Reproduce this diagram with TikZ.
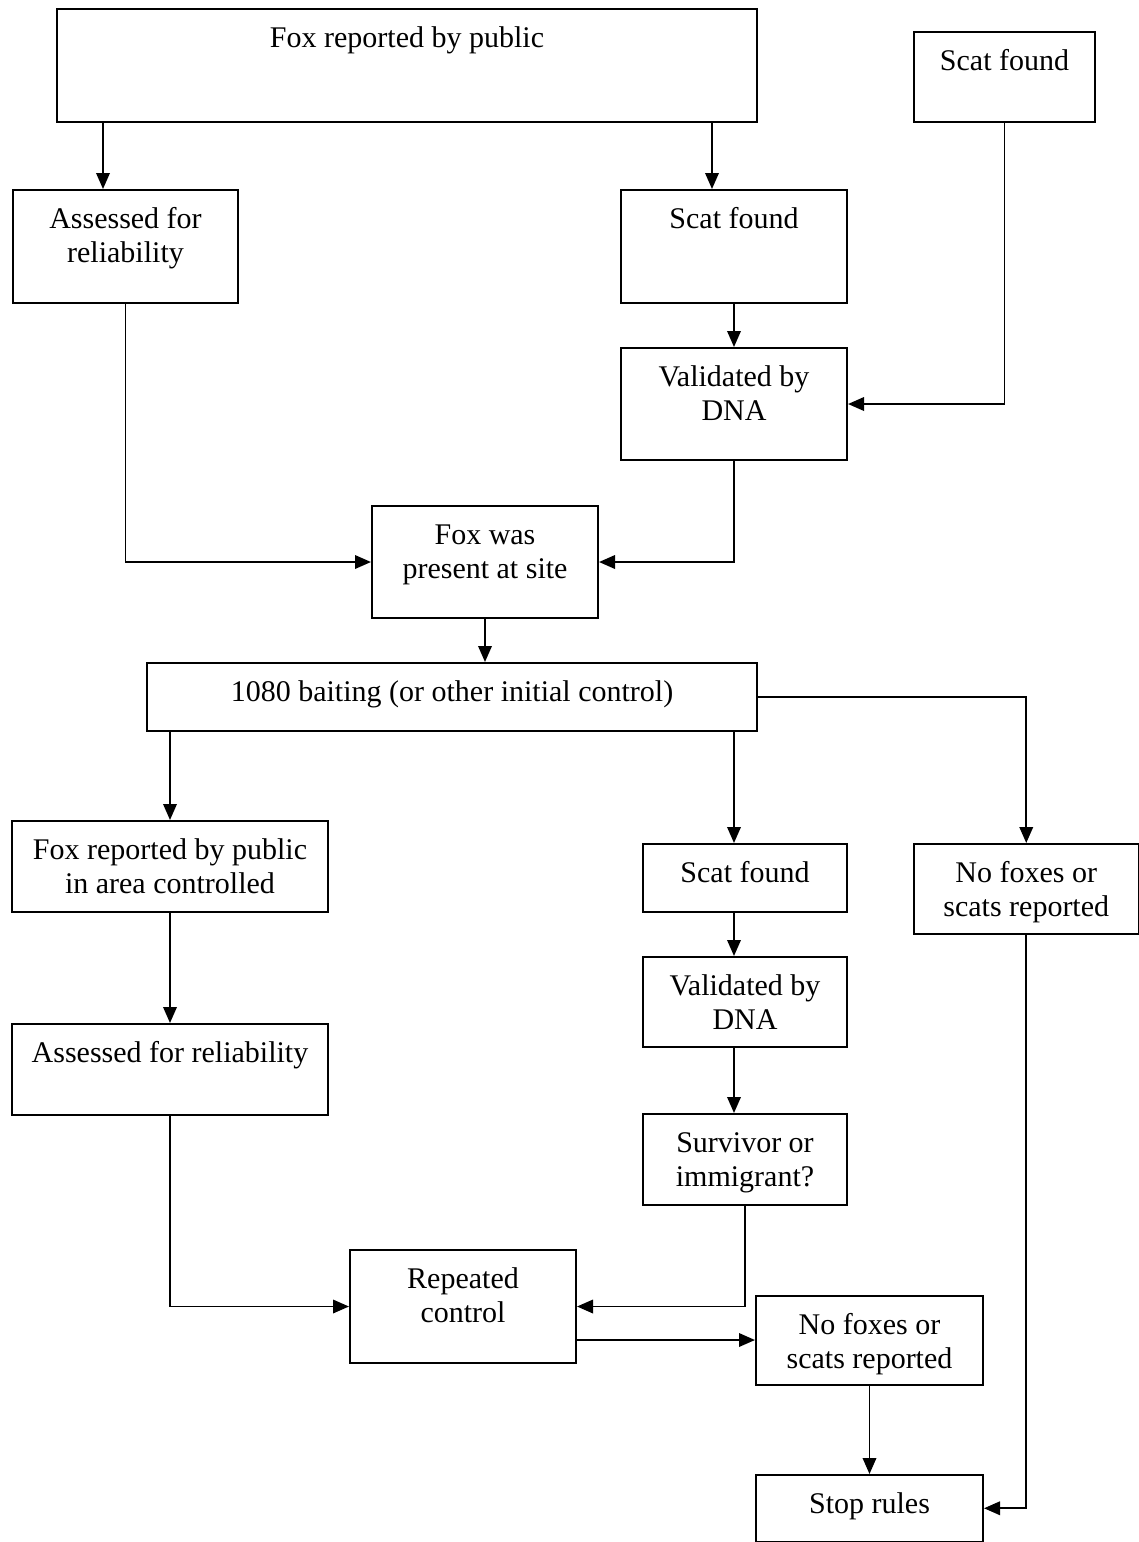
\documentclass[tikz,border=0pt]{standalone}
\usepackage{fontspec}
\setmainfont{Liberation Serif}
\usetikzlibrary{arrows.meta}

\begin{document}
\begin{tikzpicture}[x=0.4pt, y=-0.4pt,
		font=\fontsize{12pt}{13.8pt}\selectfont,
		box/.style={draw, line width=0.8pt, inner sep=0pt, align=center,
			anchor=north west, text height=15.2pt},
		twoline/.style={box, text height=29pt},
		arr/.style={-{Triangle[length=6.4pt, width=5.4pt]}, line width=0.75pt}]
				\useasboundingbox (0,0) rectangle (1139,1542);
				\node[box, minimum width=280pt, text depth=30pt] (pub) at (56,8) {Fox reported by public};
				\node[box, minimum width=72.4pt, text depth=20.8pt] (scat) at (913,31) {Scat found};
				\node[twoline, minimum width=90pt, text depth=16.2pt] (rel) at (12,189) {Assessed for\\reliability};
				\node[box, minimum width=90.4pt, text depth=30pt] (scat2) at (620,189) {Scat found};
				\node[twoline, minimum width=90.4pt, text depth=15.8pt] (dna) at (620,347) {Validated by\\DNA};
				\node[twoline, minimum width=90.4pt, text depth=15.8pt] (site) at (371,505) {Fox was\\present at site};
				\node[box, minimum width=244pt, text depth=12pt] (bait) at (146,662) {1080 baiting (or other initial control)};
				\node[twoline, minimum width=126.4pt, text depth=7.4pt] (pub2) at (11,820) {Fox reported by public\\in area controlled};
				\node[box, minimum width=81.6pt, text depth=12pt] (scat3) at (642,843) {Scat found};
				\node[twoline, minimum width=89.8pt, text depth=7pt] (none) at (913,843) {No foxes or\\scats reported};
				\node[box, minimum width=126.4pt, text depth=21.2pt] (rel2) at (11,1023) {Assessed for reliability};
				\node[twoline, minimum width=81.6pt, text depth=7pt] (dna2) at (642,956) {Validated by\\DNA};
				\node[twoline, minimum width=81.6pt, text depth=7.4pt] (surv) at (642,1113) {Survivor or\\immigrant?};
				\node[twoline, minimum width=90.4pt, text depth=16.2pt] (rep) at (349,1249) {Repeated\\control};
				\node[twoline, minimum width=90.8pt, text depth=6.6pt] (none2) at (755,1295) {No foxes or\\scats reported};
				\node[box, minimum width=90.8pt, text depth=11.4pt] (stop) at (755,1474) {Stop rules};
				\draw[arr] ([xshift=-9pt]rel.north |- pub.south) to ([xshift=-9pt]rel.north);
				\draw[arr] ([xshift=-8.8pt]scat2.north |- pub.south) to ([xshift=-8.8pt]scat2.north);
				\draw[arr] (scat2) to (dna);
				\draw[arr] (scat) |- (dna);
				\draw[arr] (rel) |- (site);
				\draw[arr] (dna) |- (site);
				\draw[arr] (site) to (site |- bait.north);
				\draw[arr] (pub2 |- bait.south) to (pub2);
				\draw[arr] ([xshift=-4.4pt]scat3.north |- bait.south) to ([xshift=-4.4pt]scat3.north);
				\draw[arr] (bait) -| (none);
				\draw[arr] (pub2) to (rel2);
				\draw[arr] ([xshift=-4.4pt]scat3.south) to ([xshift=-4.4pt]dna2.north);
				\draw[arr] ([xshift=-4.4pt]dna2.south) to ([xshift=-4.4pt]surv.north);
				\draw[arr] (rel2) |- (rep);
				\draw[arr] (surv) |- (rep);
				\draw[arr] ([yshift=-13.4pt]rep.east) to ([yshift=-13.4pt]rep.east -| none2.west);
				\draw[arr] (none2) to (stop);
				\draw[arr] (none) |- (stop);
			\end{tikzpicture}
\end{document}
